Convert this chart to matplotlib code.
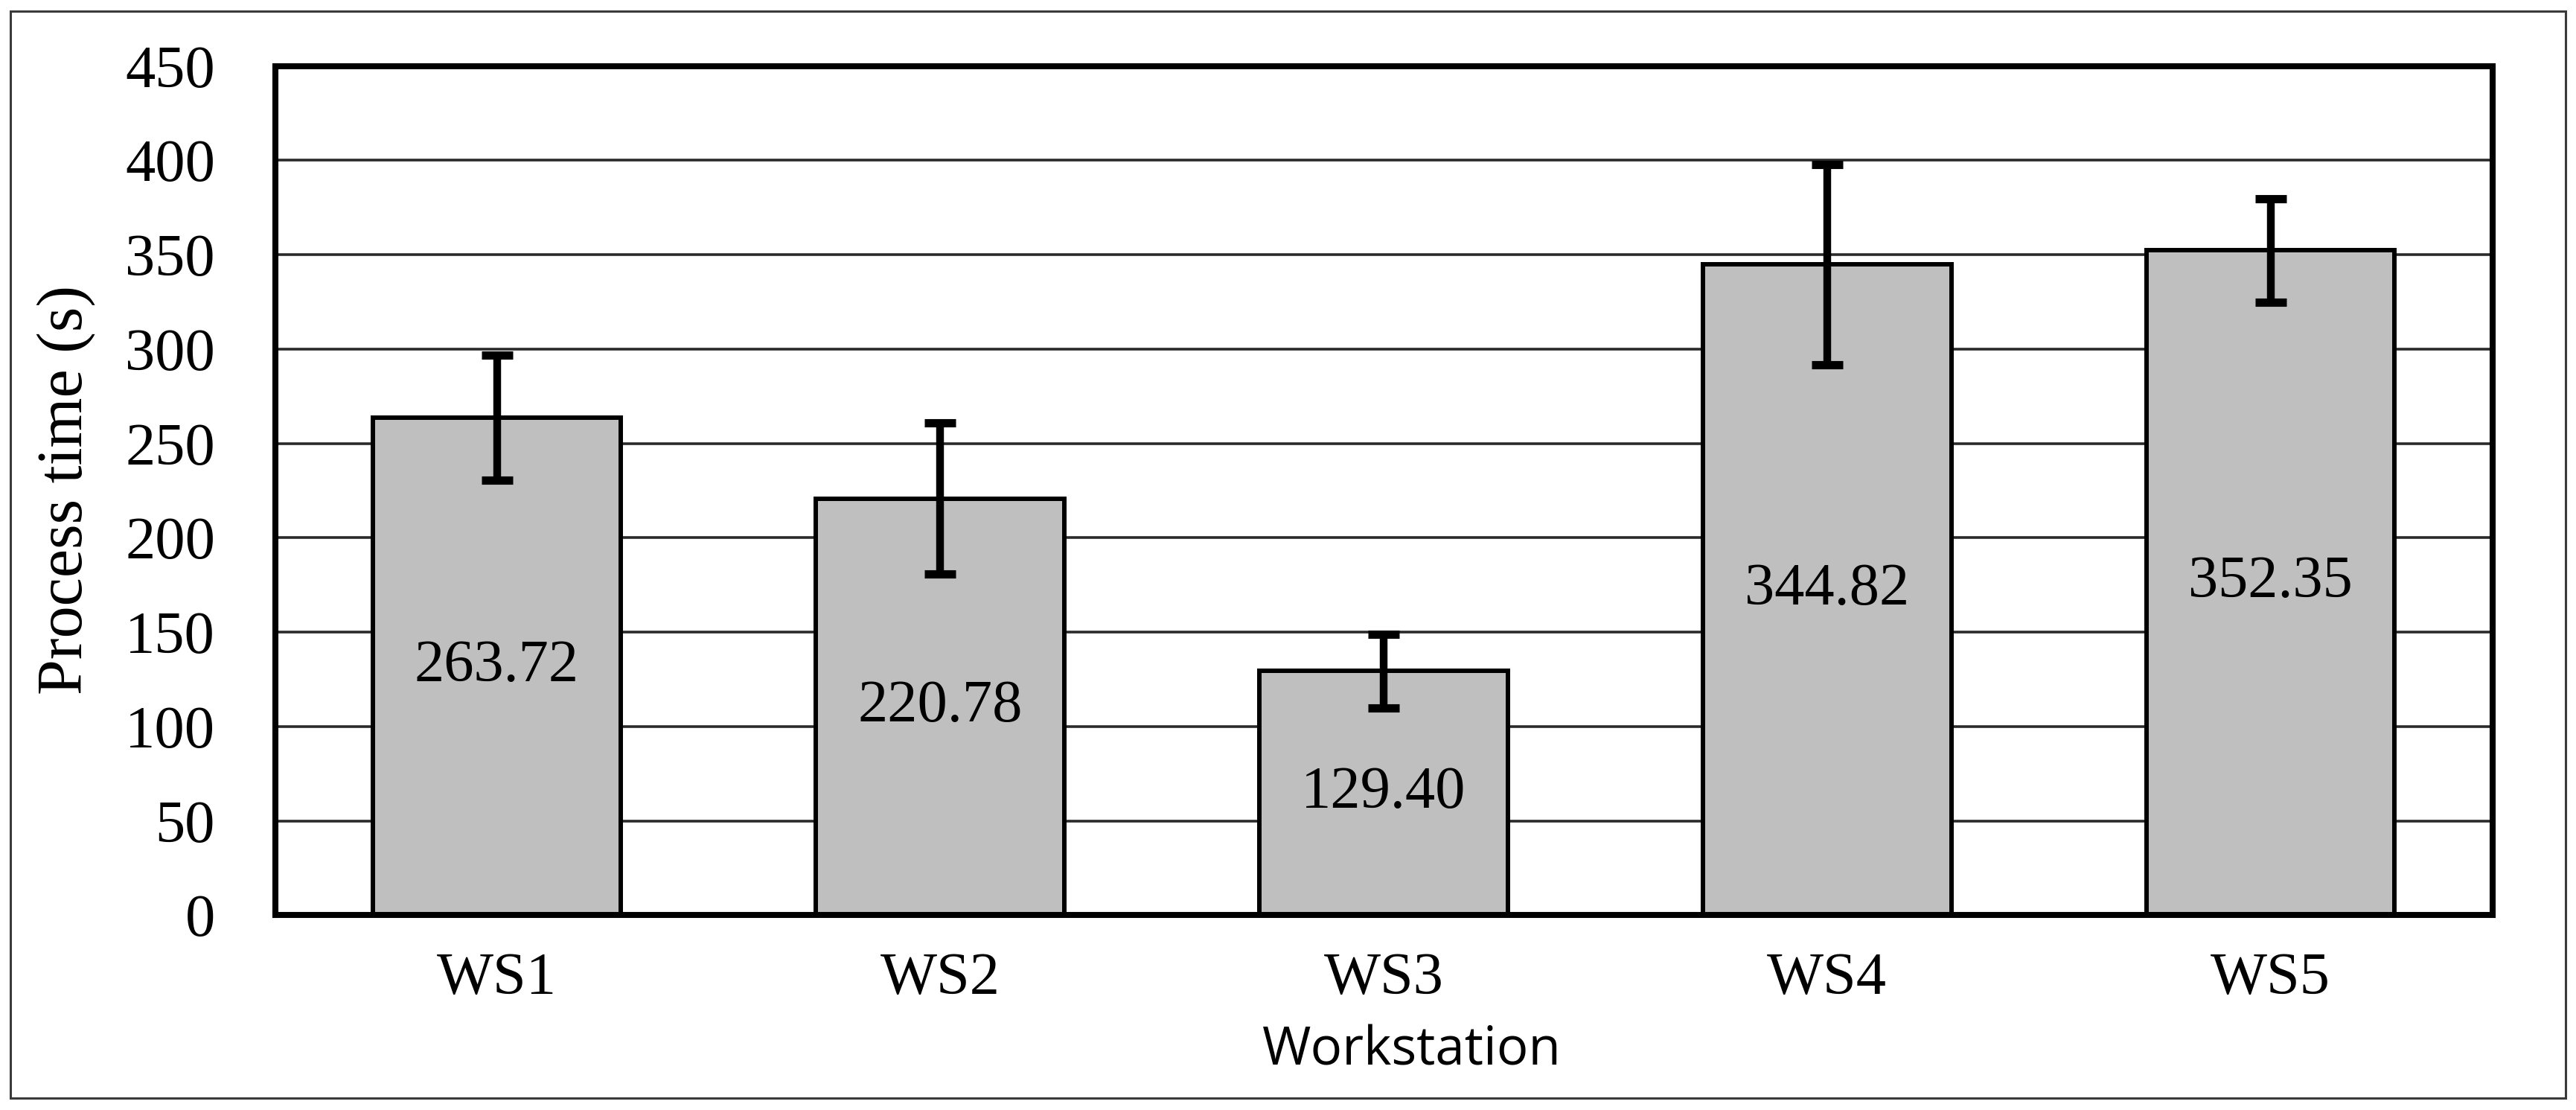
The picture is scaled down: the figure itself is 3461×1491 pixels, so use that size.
import matplotlib
matplotlib.use("Agg")
import matplotlib.pyplot as plt
from matplotlib.patches import Rectangle
import numpy as np

categories = ["WS1", "WS2", "WS3", "WS4", "WS5"]
means = [263.72, 220.78, 129.40, 344.82, 352.35]
errors = [33, 40, 19.5, 53, 27.5]
yticks = [0, 50, 100, 150, 200, 250, 300, 350, 400, 450]

W, H, DPI = 3461, 1491, 100
fig = plt.figure(figsize=(W / DPI, H / DPI), dpi=DPI)
ax = fig.add_axes([0.1068, 0.1754, 0.9675 - 0.1068, 0.9405 - 0.1754])

serif = "Liberation Serif"
x = np.arange(len(categories))
bars = ax.bar(x, means, width=0.56, color="#bfbfbf", edgecolor="black",
              linewidth=4.3, zorder=3)
ax.errorbar(x, means, yerr=errors, fmt="none", ecolor="black",
            elinewidth=7.5, capsize=15, capthick=8, zorder=4)
ax.bar_label(bars, labels=[f"{v:.2f}" for v in means], label_type="center",
             fontsize=58, family=serif, color="black", zorder=5)

ax.set_xlim(-0.5, len(categories) - 0.5)
ax.set_ylim(0, 450)
ax.set_yticks(yticks)
ax.set_yticklabels([str(t) for t in yticks], fontsize=58, family=serif)
ax.set_xticks(x)
ax.set_xticklabels(categories, fontsize=58, family=serif)
ax.tick_params(axis="both", length=0)
ax.tick_params(axis="y", pad=58)
ax.tick_params(axis="x", pad=36)
ax.yaxis.grid(True, color="#2a2a2a", linewidth=2.6, zorder=0)
ax.set_axisbelow(True)
for s in ax.spines.values():
    s.set_linewidth(5.8)
    s.set_color("black")
    s.set_zorder(6)

fig.text(0.0255, 0.5585, "Process time (s)", rotation=90, ha="center",
         va="center", fontsize=62, family=serif)
fig.text(0.548, 0.053, "Workstation", ha="center", va="center",
         fontsize=51, family="Open Sans")

fig.patches.append(Rectangle((0.0040, 0.0110), 0.9920, 0.9790,
                             transform=fig.transFigure, fill=False,
                             edgecolor="#3a3a3a", linewidth=2.2))

fig.savefig("out.png", dpi=DPI, facecolor="white")
